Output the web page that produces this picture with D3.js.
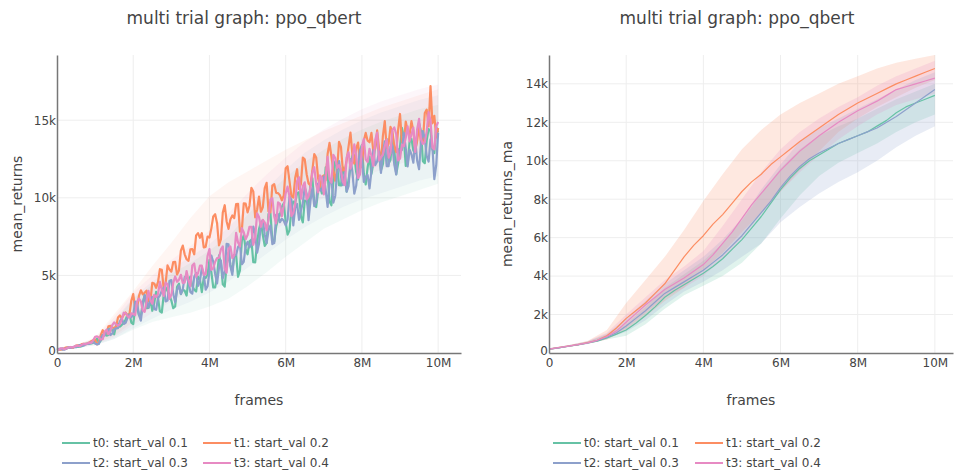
<!DOCTYPE html>
<html>
<head>
<meta charset="utf-8">
<script src="https://cdn.jsdelivr.net/npm/d3@7"></script>
<style>
  body { margin: 0; background: #fff; }
  text { font-family: "DejaVu Sans", verdana, sans-serif; fill: #444; }
</style>
</head>
<body>
<svg id="chart" width="954" height="471"></svg>
<script>
// ---- Data ----
const trialNames = ["t0: start_val 0.1", "t1: start_val 0.2", "t2: start_val 0.3", "t3: start_val 0.4"];
const trialColors = ["#66c2a5", "#fc8d62", "#8da0cb", "#e78ac3"];
const xTicks = [0, 2e6, 4e6, 6e6, 8e6, 10e6];
const rawYTicks = [0, 5000, 10000, 15000];
const maYTicks = [0, 2000, 4000, 6000, 8000, 10000, 12000, 14000];

// mean_returns, one point every 50k frames
const rawStep = 50000;
const raw0 = [200,208,265,294,260,279,370,359,325,387,410,391,405,437,550,595,585,604,615,667,
  760,930,650,805,1110,1265,1120,1165,1610,1455,1200,1790,1880,1695,1810,1960,2160,2460,2510,1960,
  1860,2890,2960,2430,2380,3230,3720,2890,2900,3410,2720,3210,3940,3550,2680,2610,3740,4230,4000,3750,
  3380,2890,3000,4270,4460,3790,4080,4010,3700,4730,4920,4320,4080,3960,4920,4720,3920,4860,4840,5060,
  6000,5200,4220,4230,4960,6290,5820,4420,4280,5640,6460,5670,5240,6310,6300,4910,5320,7260,7580,6700,
  6360,7190,7300,5850,5840,7090,7980,8420,7600,6900,7100,8950,9000,7280,7180,8160,8600,8920,9420,9650,
  8440,7630,7900,9280,9760,9670,10300,10360,8800,8410,9820,9790,9400,10870,11260,9700,9400,10450,10780,10280,
  10320,11960,11600,9760,9520,11030,12340,12080,10820,10790,11960,11480,10400,11160,11920,12730,12740,11660,11180,13090,
  13400,11530,10860,11960,12660,11540,12220,13410,13600,12780,11760,12170,13380,13790,12200,12450,14100,13110,11520,12200,
  13280,14500,13920,12050,12180,13590,13800,13050,12900,14050,14800,14280,12360,12230,13700,14420,14340,13110,12880,14550,
  14220];
const raw1 = [200,228,208,231,318,364,338,321,328,384,480,495,478,577,596,573,606,679,760,830,
  860,555,700,1160,1470,1225,1280,1715,1750,1635,1620,1700,2280,2415,2250,2455,2610,2425,2490,3370,
  3800,2840,2840,3680,4040,3780,3880,4020,3320,3320,4520,4480,4200,4560,5400,5360,4120,4520,5640,5380,
  5240,5860,5880,5060,5320,6600,6920,6360,6040,5940,6680,6700,6360,7580,7720,7420,7720,6800,6840,7500,
  7440,8030,8800,8940,8360,6940,7320,9050,9520,8490,8000,8610,8860,8690,9600,9610,7820,7920,9640,9620,
  9060,9490,10640,10410,8740,9230,10080,9100,9380,10620,10960,9110,9060,10780,10880,10320,10300,10160,9840,10150,
  11900,12030,11080,10100,10020,11290,11840,10560,10900,12590,12480,11520,10920,10800,11760,12810,12600,11280,10680,11330,
  11440,11130,12820,13540,12660,11780,11100,11850,13600,13280,11760,11790,12420,13310,14200,12800,12200,13180,13560,11970,
  11980,13680,14180,13680,13580,14180,12980,13160,14340,13170,12200,13970,14940,13210,13480,14570,14260,13300,12940,14370,
  15400,13560,13520,14910,14300,14020,14940,14300,13060,13670,14680,13460,13640,15460,15680,14600,17200,14800,15280,13890,
  14500];
const raw2 = [200,272,264,222,220,304,356,329,366,396,370,450,514,481,472,556,592,597,682,682,
  610,550,590,955,1170,1120,1420,1540,1160,1245,1530,1590,1600,2045,2240,1870,1950,2260,2470,2305,
  2440,3310,3220,2470,2080,3150,3740,3330,2920,3450,3620,2840,2780,3540,3700,4020,4220,3320,3380,4640,
  4700,3810,3280,4050,4340,3810,4120,4890,4940,4550,3920,3820,4920,5160,4320,4660,5480,5080,4080,4300,
  5240,6280,5880,5090,4480,5490,5960,4810,5280,7040,7000,5570,5040,6310,6320,6840,7000,5720,5880,6880,
  7160,6810,7000,8150,7680,6460,7040,8340,8560,7640,7080,7920,8220,7020,7080,8910,8940,8430,8640,8520,
  8220,8610,10080,9870,8220,9360,9600,8580,9180,9660,10680,10250,8560,9780,10640,9460,9720,10910,10480,10480,
  11380,10500,9420,10930,11240,9680,10120,11640,12360,11390,10820,11610,10400,10750,12500,11680,10260,10770,12080,13090,
  12500,11020,11340,11470,10600,11740,13080,12110,12340,12970,11600,12820,13640,12040,12040,13310,13380,12140,11500,13140,
  12980,13080,14180,13200,12020,13110,12800,12260,13720,12380,11840,13570,14300,13800,12700,12330,13760,13280,11200,12100,
  14200];
const raw3 = [200,213,306,298,250,287,356,390,360,391,478,451,440,526,588,578,616,673,650,814,
  1050,1075,1000,870,890,1370,1500,1210,1420,1795,1970,1845,1770,1845,2170,2595,2570,2375,2280,2550,
  2520,2435,3310,3500,3330,2750,2650,3325,4000,3410,3180,3750,3600,3790,4580,4065,3670,4535,4440,3490,
  3740,4515,4930,4585,4720,5035,4510,4535,5280,4670,4300,5635,5770,4915,5140,5625,5630,5050,5070,6245,
  6700,5360,5460,5880,6120,6130,6680,6870,5440,5170,6700,6860,6120,6300,7740,7120,6860,8040,7780,7330,
  7600,8130,8120,6970,7440,9000,8760,8130,8580,8420,7900,8630,9900,9980,8800,8350,9700,9610,8800,9460,
  10300,10720,10060,8820,9020,9600,11080,11320,9940,10740,11000,9900,10060,10660,11620,11970,10880,10350,11440,11280,
  10220,11330,12640,11210,10980,12770,12560,11930,12100,11770,11040,10820,12600,12940,11880,12360,13440,12760,11280,11500,
  13320,13790,12460,12310,13160,12710,12060,13730,14200,12410,12620,12770,13320,13750,12580,12870,14360,14530,14100,12410,
  12520,13420,13320,13860,14600,13640,14080,14520,12960,14420,15080,13780,13480,13580,14280,15520,14960,13240,13120,14600,
  14880];

// mean_returns spread, one point every 500k frames
const rawBandStep = 500000;
const rawLo0 = [180,300,500,900,1500,2000,2300,2600,3000,3500,4300,5200,6200,7100,8000,8600,9200,9700,10100,10500,10900];
const rawHi0 = [230,500,900,2000,3500,4400,5100,5800,6600,7500,8900,10200,11300,12300,13100,13800,14400,14900,15300,15700,16000];
const rawLo1 = [180,320,600,1100,2000,3000,4000,5000,6000,6800,7500,8200,8900,9700,10400,11000,11600,12100,12500,12900,13200];
const rawHi1 = [230,520,1000,2500,4000,5600,7100,8700,10100,11000,11700,12400,13100,13700,14300,14800,15300,15800,16200,16600,17000];
const rawLo2 = [180,300,500,900,1600,2200,2800,3300,3900,4600,5500,6400,7300,8100,8800,9400,9900,10300,10700,11100,11400];
const rawHi2 = [230,500,900,2100,3600,4600,5400,6200,7000,8100,9300,10600,11800,12900,13700,14400,15000,15500,15900,16300,16600];
const rawLo3 = [180,320,550,1000,1800,2600,3300,4000,4700,5500,6500,7500,8400,9300,10000,10700,11300,11800,12200,12600,12900];
const rawHi3 = [230,520,950,2300,3900,5000,6000,6900,7900,9000,10300,11500,12600,13600,14400,15100,15700,16200,16600,17000,17300];

// mean_returns_ma, one point every 250k frames
const maStep = 250000;
const ma0 = [200,270,350,420,520,620,780,980,1200,1550,1950,2400,2900,3250,3550,3850,4150,4500,4900,5400,5900,6500,7100,7800,8500,9100,9600,10000,10300,10600,10900,11100,11300,11500,11800,12100,12500,12800,13000,13200,13400];
const ma1 = [200,280,360,440,540,660,900,1300,1800,2200,2600,3100,3600,4300,5000,5600,6100,6700,7200,7800,8400,8900,9300,9800,10200,10600,11000,11350,11700,12050,12400,12700,13000,13250,13500,13750,14000,14200,14400,14600,14800];
const ma2 = [200,270,350,430,520,640,820,1050,1400,1800,2200,2650,3100,3400,3700,4000,4300,4700,5100,5600,6100,6700,7300,7900,8600,9200,9700,10100,10400,10650,10900,11100,11300,11500,11700,12000,12300,12650,13000,13350,13700];
const ma3 = [200,280,360,440,530,660,860,1150,1600,2050,2500,2900,3300,3600,3900,4250,4600,5100,5700,6300,7000,7700,8300,8900,9500,10000,10500,10900,11300,11650,12000,12300,12600,12850,13100,13400,13700,13850,14000,14150,14300];

// mean_returns_ma band, one point every 500k frames
const maBandStep = 500000;
const maLo0 = [150,310,470,700,900,1500,2300,3000,3500,4000,4700,5700,7000,8200,9200,9900,10400,10900,11500,12000,12400];
const maHi0 = [250,400,600,950,1500,2400,3400,4100,4800,5700,6900,8300,9600,10600,11300,11800,12200,12700,13200,13600,14000];
const maLo1 = [150,320,480,700,1200,1900,2700,3400,4300,5200,6300,7300,8400,9500,10500,11500,12200,12800,13300,13800,14200];
const maHi1 = [250,400,620,1200,2600,3800,5000,6400,7900,9300,10600,11600,12400,13000,13500,14000,14400,14800,15100,15300,15500];
const maLo2 = [150,310,470,750,1100,1700,2500,3200,3700,4300,5000,5700,6800,7600,8300,8900,9400,10000,10700,11300,11800];
const maHi2 = [250,400,600,1000,1800,2700,3600,4300,5000,5900,7000,8500,9800,11000,11700,12200,12700,13200,13700,14200,14600];
const maLo3 = [150,320,480,720,1300,2100,2900,3400,4000,4900,6000,7200,8400,9400,10300,11100,11800,12400,12900,13200,13500];
const maHi3 = [250,400,620,1050,2000,2900,3800,4500,5300,6600,8000,9400,10600,11500,12200,12800,13300,13900,14400,14800,15200];

// ---- Build series ----
const toPts = (vals, step) => vals.map((v, i) => ({ x: i * step, y: v }));
const toBand = (lo, hi, step) => lo.map((v, i) => ({ x: i * step, lo: v, hi: hi[i] }));

const rawLines = [raw0, raw1, raw2, raw3].map(a => toPts(a, rawStep));
const rawBands = [[rawLo0, rawHi0], [rawLo1, rawHi1], [rawLo2, rawHi2], [rawLo3, rawHi3]].map(([lo, hi]) => toBand(lo, hi, rawBandStep));
const maLines = [ma0, ma1, ma2, ma3].map(a => toPts(a, maStep));
const maBands = [[maLo0, maHi0], [maLo1, maHi1], [maLo2, maHi2], [maLo3, maHi3]].map(([lo, hi]) => toBand(lo, hi, maBandStep));

const svg = d3.select("#chart");

const kFmt = d => d === 0 ? "0" : (d / 1000) + "k";
const mFmt = d => d === 0 ? "0" : (d / 1e6) + "M";

function drawPanel(opt) {
  const g = svg.append("g");
  const x = d3.scaleLinear().domain([0, opt.xMax]).range([opt.left, opt.right]);
  const y = d3.scaleLinear().domain([0, opt.yMax]).range([opt.bottom, opt.top]);

  // grid
  g.append("g").selectAll("line").data(xTicks.slice(1)).join("line")
    .attr("x1", d => x(d)).attr("x2", d => x(d))
    .attr("y1", opt.top).attr("y2", opt.bottom)
    .attr("stroke", "#eee").attr("stroke-width", 1);
  g.append("g").selectAll("line").data(opt.yTicks.slice(1)).join("line")
    .attr("x1", opt.left).attr("x2", opt.right)
    .attr("y1", d => y(d)).attr("y2", d => y(d))
    .attr("stroke", "#eee").attr("stroke-width", 1);

  // bands
  const area = d3.area().x(d => x(d.x)).y0(d => y(d.lo)).y1(d => y(d.hi));
  opt.bands.forEach((b, i) => {
    g.append("path").attr("d", area(b))
      .attr("fill", trialColors[i]).attr("fill-opacity", opt.bandOpacity);
  });

  // lines
  const line = d3.line().x(d => x(d.x)).y(d => y(d.y));
  opt.lines.forEach((l, i) => {
    g.append("path").attr("d", line(l))
      .attr("fill", "none").attr("stroke", trialColors[i])
      .attr("stroke-width", opt.lineWidth).attr("stroke-linejoin", "round");
  });

  // axes
  const xAxis = g.append("g").attr("transform", `translate(0,${opt.bottom})`)
    .call(d3.axisBottom(x).tickValues(xTicks).tickFormat(mFmt).tickSize(0).tickPadding(5));
  const yAxis = g.append("g").attr("transform", `translate(${opt.left},0)`)
    .call(d3.axisLeft(y).tickValues(opt.yTicks).tickFormat(kFmt).tickSize(0).tickPadding(1));
  [xAxis, yAxis].forEach(a => {
    a.select(".domain").attr("stroke", "#777").attr("stroke-width", 1.5);
    a.selectAll("text").attr("font-size", 12).attr("fill", "#444")
      .style("font-family", '"DejaVu Sans", verdana, sans-serif');
  });
  // the y "0" sits just above the x "0", as in the reference
  yAxis.selectAll(".tick text").filter(d => d === 0).attr("dy", "0.1em");

  // titles
  svg.append("text").attr("x", opt.titleX).attr("y", 24)
    .attr("text-anchor", "middle").attr("font-size", 17).text("multi trial graph: ppo_qbert");
  svg.append("text").attr("x", (opt.left + opt.right) / 2).attr("y", 405)
    .attr("text-anchor", "middle").attr("font-size", 14).text("frames");
  svg.append("text")
    .attr("transform", `translate(${opt.yTitleX},${(opt.top + opt.bottom) / 2}) rotate(-90)`)
    .attr("text-anchor", "middle").attr("font-size", 14).text(opt.yTitle);

  // legend
  trialNames.forEach((name, i) => {
    const lx = opt.legendX[i % 2];
    const ly = i < 2 ? 443 : 463;
    svg.append("line").attr("x1", lx).attr("x2", lx + 28)
      .attr("y1", ly).attr("y2", ly)
      .attr("stroke", trialColors[i]).attr("stroke-width", 2);
    svg.append("text").attr("x", lx + 31).attr("y", ly + 4)
      .attr("font-size", 12).text(name);
  });
}

drawPanel({
  left: 57, right: 461, top: 55, bottom: 353,
  xMax: 10.6e6, yMax: 19200, yTicks: rawYTicks,
  lines: rawLines, bands: rawBands, bandOpacity: 0.08, lineWidth: 2.2,
  titleX: 244, yTitle: "mean_returns", yTitleX: 22,
  legendX: [62, 203]
});

drawPanel({
  left: 549, right: 953, top: 55, bottom: 353,
  xMax: 10.47e6, yMax: 15500, yTicks: maYTicks,
  lines: maLines, bands: maBands, bandOpacity: 0.2, lineWidth: 1.2,
  titleX: 737, yTitle: "mean_returns_ma", yTitleX: 512,
  legendX: [553, 695]
});
</script>
</body>
</html>
